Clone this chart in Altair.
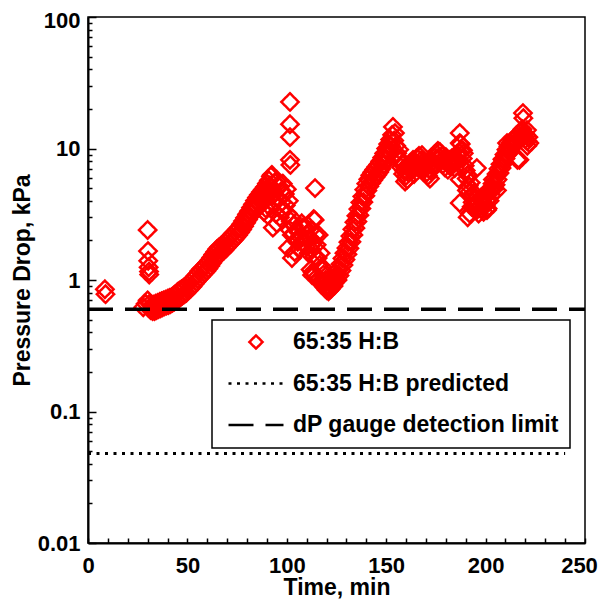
import altair as alt
import pandas as pd

SERIES = ["65:35 H:B", "65:35 H:B predicted", "dP gauge detection limit"]

t_start = [8.5, 8.8, 27.8, 29.0, 30.0, 30.0, 30.2, 30.3, 30.5, 30.7, 30.8]
dp_start = [0.85, 0.78, 0.62, 0.66, 0.70, 2.40, 1.66, 1.40, 1.25, 1.16, 1.10]

# first rise: upper edge of the band (whole minutes)
t_rise1_up = [31, 32, 33, 34, 35, 36, 37, 38, 39, 40, 41, 42, 43, 44, 45, 46, 47, 48, 49, 50,
              51, 52, 53, 54, 55, 56, 57, 58, 59, 60, 61, 62, 63, 64, 65, 66, 67, 68, 69, 70,
              71, 72, 73, 74, 75, 76, 77, 78, 79, 80, 81, 82, 83, 84, 85, 86, 87, 88, 89, 90,
              91, 92]
dp_rise1_up = [0.66, 0.64, 0.65, 0.66, 0.67, 0.68, 0.69, 0.70, 0.71, 0.72, 0.73, 0.74, 0.76,
               0.78, 0.81, 0.83, 0.85, 0.87, 0.89, 0.92, 0.95, 0.99, 1.03, 1.07, 1.11, 1.17,
               1.21, 1.25, 1.29, 1.35, 1.41, 1.48, 1.56, 1.64, 1.72, 1.78, 1.82, 1.87, 1.93,
               2.01, 2.10, 2.17, 2.25, 2.33, 2.42, 2.52, 2.65, 2.81, 2.97, 3.16, 3.34, 3.55,
               3.76, 4.01, 4.24, 4.45, 4.66, 4.88, 5.09, 5.41, 5.72, 6.15]
# first rise: lower edge of the band (half minutes)
t_rise1_lo = [31.5, 32.5, 33.5, 34.5, 35.5, 36.5, 37.5, 38.5, 39.5, 40.5, 41.5, 42.5, 43.5,
              44.5, 45.5, 46.5, 47.5, 48.5, 49.5, 50.5, 51.5, 52.5, 53.5, 54.5, 55.5, 56.5,
              57.5, 58.5, 59.5, 60.5, 61.5, 62.5, 63.5, 64.5, 65.5, 66.5, 67.5, 68.5, 69.5,
              70.5, 71.5, 72.5, 73.5, 74.5, 75.5, 76.5, 77.5, 78.5, 79.5, 80.5, 81.5, 82.5,
              83.5, 84.5, 85.5, 86.5, 87.5, 88.5, 89.5, 90.5, 91.5]
dp_rise1_lo = [0.59, 0.58, 0.58, 0.59, 0.60, 0.61, 0.62, 0.63, 0.64, 0.645, 0.655, 0.67, 0.685,
               0.70, 0.72, 0.74, 0.76, 0.78, 0.80, 0.83, 0.86, 0.89, 0.93, 0.97, 1.01, 1.05,
               1.09, 1.13, 1.17, 1.22, 1.28, 1.35, 1.42, 1.49, 1.55, 1.60, 1.64, 1.68, 1.75,
               1.82, 1.89, 1.96, 2.03, 2.11, 2.20, 2.30, 2.42, 2.56, 2.72, 2.88, 3.05, 3.24,
               3.45, 3.65, 3.85, 4.04, 4.23, 4.42, 4.65, 4.94, 5.25]

# scatter after the first peak, with the spikes near 101 min
t_peak1 = [88, 88.5, 89, 89.5, 90, 90.5, 91, 91.5, 92, 92.5, 93, 93.5, 94, 94.5, 95, 95.5, 96,
           96.5, 97, 97.5, 98, 98.5, 99, 99.5, 100, 100.5, 101, 101.5, 102, 102.5, 93, 95, 100.6,
           101.6, 101.6, 101.6, 101.6, 101.8, 102.6, 102.6, 103]
dp_peak1 = [3.9, 3.3, 4.1, 3.5, 4.3, 3.1, 4.6, 3.6, 5.0, 6.3, 4.4, 3.8, 5.5, 3.2, 5.7, 4.1, 5.2,
            3.0, 4.7, 3.9, 5.4, 3.4, 4.5, 3.7, 4.9, 3.2, 4.0, 2.4, 2.8, 2.2, 2.5, 2.7, 1.75,
            22.6, 15.3, 12.2, 8.2, 7.5, 2.96, 1.47, 2.2]

# valley 103-126 min
t_valley = [103.5, 104, 104.5, 105, 105.5, 106, 106.5, 107, 107.5, 108, 108.5, 109, 109.5, 110,
            110.5, 111, 111.5, 112, 112.5, 113, 113.5, 114, 114.5, 115, 115.5, 116, 116.5, 117,
            117.5, 118, 118.5, 119, 119.5, 120, 120.5, 121, 121.5, 122, 122.5, 123, 123.5, 124,
            124.5, 125, 125.5, 112, 112.7, 113, 114, 114, 114.2, 115, 116, 117, 118, 119, 120,
            121, 122, 123, 124, 125]
dp_valley = [2.6, 1.63, 2.0, 2.4, 1.95, 2.3, 1.7, 2.1, 2.7, 2.5, 1.9, 2.5, 1.8, 2.2, 2.6, 1.6,
             2.1, 2.4, 1.7, 1.9, 2.9, 1.5, 2.2, 1.85, 1.47, 2.2, 1.3, 1.6, 1.2, 1.25, 1.1, 0.95,
             1.0, 0.84, 0.9, 0.82, 0.86, 0.88, 0.92, 0.96, 0.9, 1.02, 1.05, 1.10, 1.0, 1.2, 1.09,
             1.15, 2.86, 1.1, 5.0, 1.05, 1.0, 0.95, 0.92, 0.88, 0.86, 0.88, 0.85, 0.92, 0.95,
             1.0]

# second rise: upper edge (whole minutes) and lower edge (half minutes)
t_rise2_up = [126, 127, 128, 129, 130, 131, 132, 133, 134, 135, 136, 137, 138, 139, 140, 141,
              142, 143, 144, 145, 146, 147, 148, 149, 150, 151, 152, 153]
dp_rise2_up = [1.21, 1.32, 1.46, 1.60, 1.75, 1.94, 2.16, 2.43, 2.75, 3.08, 3.46, 3.89, 4.32,
               4.86, 5.4, 5.83, 6.26, 6.59, 6.91, 7.24, 7.56, 7.99, 8.53, 9.18, 10.0, 10.8,
               11.7, 12.7]
t_rise2_lo = [126.5, 127.5, 128.5, 129.5, 130.5, 131.5, 132.5, 133.5, 134.5, 135.5, 136.5,
              137.5, 138.5, 139.5, 140.5, 141.5, 142.5, 143.5, 144.5, 145.5, 146.5, 147.5,
              148.5, 149.5, 150.5, 151.5, 152.5, 153.4, 154.4, 154]
dp_rise2_lo = [1.08, 1.18, 1.30, 1.43, 1.57, 1.74, 1.95, 2.20, 2.48, 2.78, 3.11, 3.50, 3.91,
               4.37, 4.78, 5.15, 5.47, 5.75, 6.03, 6.31, 6.62, 7.00, 7.50, 8.13, 8.88, 9.57,
               10.4, 14.6, 13.1, 11.5]

# plateau 155-187 min
t_plateau = [155, 155.5, 156, 156.5, 157, 157.5, 158, 158.5, 159, 159.5, 160, 160.5, 161, 161.5,
             162, 162.5, 163, 163.5, 164, 164.5, 165, 165.5, 166, 166.5, 167, 167.5, 168, 168.5,
             169, 169.5, 170, 170.5, 171, 171.5, 172, 172.5, 173, 173.5, 174, 174.5, 175, 175.5,
             176, 176.5, 177, 177.5, 178, 178.5, 179, 179.5, 180, 180.5, 181, 181.5, 182, 182.5,
             183, 183.5, 184, 184.5, 185, 185.5, 186, 186.5]
dp_plateau = [10.5, 9.2, 8.6, 9.8, 8.0, 7.2, 7.6, 6.4, 6.8, 5.6, 6.2, 5.8, 6.6, 7.4, 6.9, 7.8,
              7.0, 8.2, 6.4, 7.1, 7.6, 8.4, 7.2, 8.8, 7.5, 8.1, 8.9, 7.4, 8.0, 7.0, 7.6, 6.6,
              6.2, 7.0, 5.9, 6.8, 7.4, 8.0, 8.6, 7.6, 9.2, 8.4, 9.6, 8.6, 9.4, 8.0, 8.8, 7.6,
              8.3, 7.2, 8.6, 7.8, 6.9, 7.5, 8.2, 7.3, 8.4, 7.6, 8.0, 7.1, 8.3, 9.0, 8.2, 9.4]

# last part 187-222 min
t_end = [187, 187.5, 188, 188.5, 189, 189.5, 190, 190.5, 191, 191.5, 192, 192.5, 193, 193.5,
         194, 194.5, 195, 195.5, 196, 196.5, 197, 197.5, 198, 198.5, 199, 199.5, 200, 200.5,
         201, 201.5, 202, 202.5, 203, 203.5, 204, 204.5, 205, 205.5, 206, 206.5, 207, 207.5,
         208, 208.5, 209, 209.5, 210, 210.5, 211, 211.5, 212, 212.5, 213, 213.5, 214, 214.5,
         215, 215.5, 216, 216.5, 217, 217.5, 218, 218.5, 219, 219.5, 220, 220.5, 221, 221.5,
         222, 187, 187, 187, 188.6, 190.6, 191, 192, 193, 195.6, 196, 198.7, 200.7, 203.7,
         205.7, 208.7, 210.8, 216, 217, 218.8, 219, 220.8, 221, 218]
dp_end = [13.1, 10.8, 9.6, 8.4, 9.2, 7.4, 6.8, 5.9, 6.3, 5.2, 4.7, 5.5, 4.3, 3.9, 4.6, 3.6, 4.1,
          3.4, 3.8, 3.2, 3.6, 4.2, 3.5, 3.9, 3.3, 4.4, 3.7, 4.0, 3.5, 4.6, 4.0, 5.0, 4.4, 5.4,
          4.9, 5.9, 5.3, 6.4, 5.8, 7.0, 6.5, 7.6, 7.1, 8.3, 7.7, 9.0, 8.4, 9.8, 9.0, 10.4, 9.6,
          11.0, 10.1, 11.6, 10.6, 12.0, 11.0, 12.4, 11.2, 12.8, 11.6, 13.2, 12.0, 14.0, 12.4,
          13.0, 11.8, 12.6, 11.4, 12.2, 11.0, 11.0, 5.8, 3.85, 9.7, 4.8, 3.0, 3.2, 3.6, 7.1,
          3.5, 4.1, 3.4, 5.8, 4.8, 8.2, 11.0, 8.2, 8.2, 18.6, 17.0, 13.8, 10.5, 13.5]

pred_t = [0, 240]
pred_dp = [0.048, 0.048]
limit_t = [0, 250]
limit_dp = [0.6, 0.6]

x_ticks = [0, 50, 100, 150, 200, 250]
x_minor = [0, 10, 20, 30, 40, 50, 60, 70, 80, 90, 100, 110, 120, 130, 140, 150, 160, 170, 180,
           190, 200, 210, 220, 230, 240, 250]
y_ticks = [0.01, 0.1, 1, 10, 100]
y_minor = [0.02, 0.03, 0.04, 0.05, 0.06, 0.07, 0.08, 0.09,
           0.2, 0.3, 0.4, 0.5, 0.6, 0.7, 0.8, 0.9,
           2, 3, 4, 5, 6, 7, 8, 9,
           20, 30, 40, 50, 60, 70, 80, 90]

t_all = (t_start + t_rise1_up + t_rise1_lo + t_peak1 + t_valley + t_rise2_up + t_rise2_lo
         + t_plateau + t_end)
dp_all = (dp_start + dp_rise1_up + dp_rise1_lo + dp_peak1 + dp_valley + dp_rise2_up
          + dp_rise2_lo + dp_plateau + dp_end)

pts = pd.DataFrame({"t": t_all, "dp": dp_all, "series": SERIES[0]})
pred = pd.DataFrame({"t": pred_t, "dp": pred_dp, "series": SERIES[1]})
lim = pd.DataFrame({"t": limit_t, "dp": limit_dp, "series": SERIES[2]})

FONT = "Liberation Sans"
DIAMOND = "M0,-0.24L0.24,0L0,0.24L-0.24,0Z"
STROKE = "M-1,0L1,0"

xscale = alt.Scale(domain=[0, 250], nice=False, zero=False)
yscale = alt.Scale(type="log", domain=[0.01, 100], nice=False)

legend = alt.Legend(
    orient="none", legendX=124, legendY=303, direction="vertical",
    strokeColor="black", fillColor="white", padding=11,
    labelFont=FONT, labelFontWeight="bold", labelFontSize=23, labelColor="black",
    labelOffset=8, labelLimit=500, symbolSize=3025, symbolStrokeWidth=2.5,
    symbolOffset=4, clipHeight=22, rowPadding=18.5,
)

color = alt.Color("series:N", title=None,
                  scale=alt.Scale(domain=SERIES, range=["#ff0000", "#000000", "#000000"]),
                  legend=legend)
shape = alt.Shape("series:N", title=None,
                  scale=alt.Scale(domain=SERIES, range=[DIAMOND, STROKE, STROKE]),
                  legend=legend)
dash = alt.StrokeDash("series:N", title=None,
                      scale=alt.Scale(domain=SERIES, range=[[1, 0], [3, 5.5], [25, 12]]),
                      legend=legend)

x_main = alt.Axis(orient="bottom", values=x_ticks, format="d", labelFont=FONT,
                  labelFontWeight="bold", labelFontSize=22, labelColor="black",
                  labelPadding=12, labelFlush=False, labelOverlap=False, ticks=False,
                  labelOffset={"condition": {"test": "datum.value >= 250", "value": -6},
                               "value": 0},
                  domain=True, domainColor="black", domainWidth=2, grid=False,
                  title="Time, min", titleFont=FONT, titleFontWeight="bold", titleFontSize=23,
                  titleColor="black", titleY=51, titleBaseline="alphabetic")
y_main = alt.Axis(orient="left", values=y_ticks, format="~g", labelFont=FONT,
                  labelFontWeight="bold", labelFontSize=22, labelColor="black",
                  labelPadding=8, labelFlush=False, labelOverlap=False, ticks=False,
                  labelOffset={"condition": {"test": "datum.value >= 100", "value": 3},
                               "value": 0},
                  domain=True, domainColor="black", domainWidth=2, grid=False,
                  title="Pressure Drop, kPa", titleFont=FONT, titleFontWeight="bold",
                  titleFontSize=23, titleColor="black", titleX=-66, titleY=263,
                  titleAngle=270, titleAlign="center", titleBaseline="middle")
x_tick_axis = alt.Axis(orient="bottom", values=x_minor, labels=False, domain=False,
                       ticks=True, tickSize=5, offset=-5, tickColor="black", tickWidth=1.5,
                       grid=False, title=None)
y_tick_axis = alt.Axis(orient="left", values=y_ticks, labels=False, domain=False,
                       ticks=True, tickSize=8, offset=-8, tickColor="black", tickWidth=1.5,
                       grid=False, title=None)
y_minor_axis = alt.Axis(orient="left", values=y_minor, labels=False, domain=False,
                        ticks=True, tickSize=4, offset=-4, tickColor="black", tickWidth=1.5,
                        grid=False, title=None)

points = alt.Chart(pts).mark_point(filled=False, size=5200, strokeWidth=2.5, opacity=1).encode(
    x=alt.X("t:Q", scale=xscale, axis=x_main),
    y=alt.Y("dp:Q", scale=yscale, axis=y_main),
    color=color, shape=shape, strokeDash=dash,
)
dotted = alt.Chart(pred).mark_line(strokeWidth=3).encode(
    x=alt.X("t:Q", scale=xscale, axis=x_tick_axis),
    y=alt.Y("dp:Q", scale=yscale, axis=y_tick_axis),
    color=color, strokeDash=dash,
)
dashed = alt.Chart(lim).mark_line(strokeWidth=3.5).encode(
    x=alt.X("t:Q", scale=xscale, axis=None),
    y=alt.Y("dp:Q", scale=yscale, axis=y_minor_axis),
    color=color, strokeDash=dash,
)

chart = alt.layer(points, dotted, dashed).resolve_axis(
    x="independent", y="independent"
).properties(
    width=497, height=526,
    padding={"left": 80, "top": 9, "right": 13, "bottom": 56},
    autosize=alt.AutoSizeParams(type="none"),
).configure_view(stroke="black", strokeWidth=1.5).configure_legend(strokeWidth=1.5)

chart.save("out.html", embed_options={"renderer": "svg", "actions": False})
